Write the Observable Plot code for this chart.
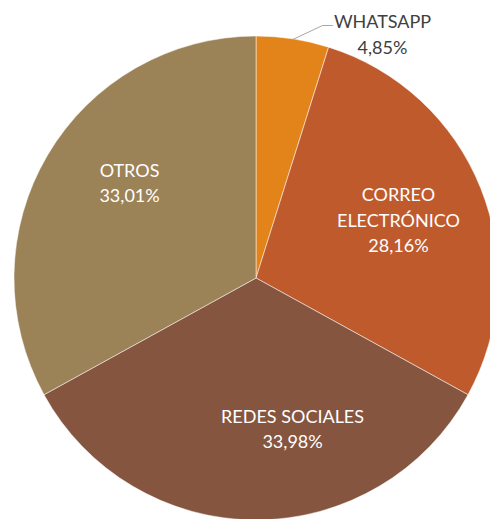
<!DOCTYPE html>
<html><head><meta charset="utf-8">
<script src="https://cdn.jsdelivr.net/npm/d3@7"></script>
<script src="https://cdn.jsdelivr.net/npm/@observablehq/plot@0.6"></script>
<style>html,body{margin:0;padding:0;background:#fff;overflow:hidden}</style>
</head><body><div id="chart"></div>
<script>
// ---- data ----
const categories = ["WHATSAPP", "CORREO\nELECTRÓNICO", "REDES SOCIALES", "OTROS"];
const values = [4.85, 28.16, 33.98, 33.01];
const colors = ["#E3841A", "#BF5A2D", "#865540", "#9C8257"];

// ---- layout ----
const W = 490, H = 519, R = 242, CX = 256, CY = 278;
const FONT = "Lato, 'Open Sans', sans-serif";
const FS = 18;
// label placement: radius fraction + nudge (data units, 1 = pie radius)
const labelRadius = [1.0, 0.632, 0.62, 0.65];
const labelNudge = [[0, 0], [0, 0.013], [0.149, 0.004], [0.035, 0.07]];

const rows = categories.map((c, i) => ({category: c, value: values[i], color: colors[i]}));
const arcs = d3.pie().sort(null).value(d => d.value)(rows);
const fmt = v => v.toFixed(2).replace(".", ",") + "%";
const polar = (a, f) => [f * Math.sin(a), f * Math.cos(a)];

const labels = arcs.map((a, i) => {
  const mid = (a.startAngle + a.endAngle) / 2;
  let [x, y] = polar(mid, labelRadius[i]);
  x += labelNudge[i][0]; y += labelNudge[i][1];
  return {x, y, text: a.data.category + "\n" + fmt(a.data.value), outside: i === 0, mid};
});
// outside label for whatsapp
const wa = labels[0];
const waStart = polar(wa.mid, 1.0);
wa.x = (382 - CX) / R; wa.y = (CY - 32.5) / R;
const leader = [
  {x: waStart[0], y: waStart[1]},
  {x: (322 - CX) / R, y: (CY - 25) / R},
  {x: (332 - CX) / R, y: (CY - 25) / R}
];

function slices(index, scales, values, dimensions, context) {
  const cx = scales.x(0), cy = scales.y(0);
  const r = scales.x(1) - scales.x(0);
  const arc = d3.arc().innerRadius(0).outerRadius(r);
  const g = d3.create("svg:g").attr("transform", `translate(${cx},${cy})`);
  g.selectAll("path").data(arcs).join("path")
    .attr("d", arc)
    .attr("fill", d => d.data.color)
    .attr("stroke", "#fff")
    .attr("stroke-width", 0.5);
  return g.node();
}

const chart = Plot.plot({
  width: W, height: H,
  margin: 0,
  x: {domain: [-CX / R, (W - CX) / R], axis: null},
  y: {domain: [-(H - CY) / R, CY / R], axis: null},
  style: {fontFamily: FONT, background: "#fff"},
  marks: [
    slices,
    Plot.line(leader, {x: "x", y: "y", stroke: "#A6A6A6", strokeWidth: 1}),
    Plot.text(labels.filter(d => !d.outside), {x: "x", y: "y", text: "text", fill: "#fff",
      fontSize: FS, lineHeight: 1.4, lineAnchor: "middle", textAnchor: "middle"}),
    Plot.text(labels.filter(d => d.outside), {x: "x", y: "y", text: "text", fill: "#404040",
      fontSize: FS, lineHeight: 1.4, lineAnchor: "middle", textAnchor: "middle"})
  ]
});
document.getElementById("chart").append(chart);
</script>
</body></html>
